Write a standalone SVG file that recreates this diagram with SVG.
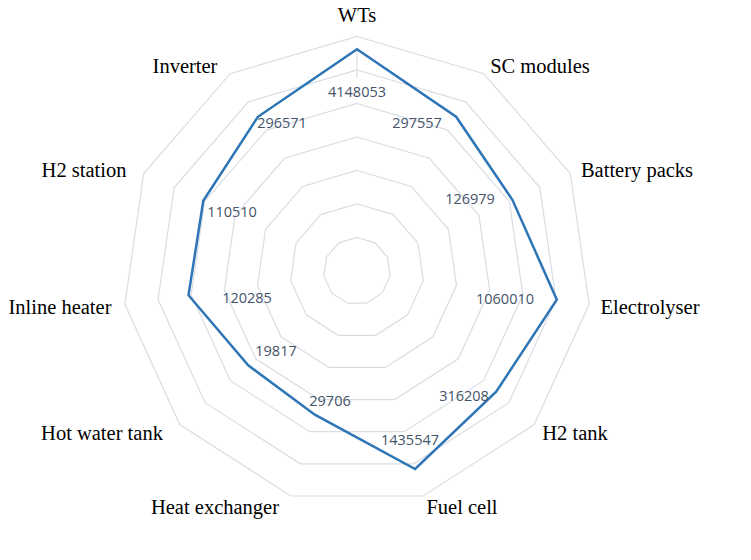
<svg xmlns="http://www.w3.org/2000/svg" width="751" height="560" viewBox="0 0 751 560">
<style>
.ring{fill:none;stroke:#d9dde3;stroke-width:1.2}
.cat{font-family:"Liberation Serif",serif;font-size:20.5px;fill:#000;text-anchor:middle}
.val{font-family:"Open Sans","Liberation Sans",sans-serif;font-size:14.5px;fill:#44546a;text-anchor:middle}
</style>
<defs>
<polygon id="ring" class="ring" vector-effect="non-scaling-stroke" points="0,-100 54.06,-84.13 90.96,-41.54 98.98,14.23 75.57,65.49 28.17,95.95 -28.17,95.95 -75.57,65.49 -98.98,14.23 -90.96,-41.54 -54.06,-84.13"/>
</defs>
<rect width="751" height="560" fill="#fff"/>
<g id="grid">
<use href="#ring" transform="translate(357,271) scale(0.335)"/>
<use href="#ring" transform="translate(357,271) scale(0.67)"/>
<use href="#ring" transform="translate(357,271) scale(1.005)"/>
<use href="#ring" transform="translate(357,271) scale(1.34)"/>
<use href="#ring" transform="translate(357,271) scale(1.675)"/>
<use href="#ring" transform="translate(357,271) scale(2.01)"/>
<use href="#ring" transform="translate(357,271) scale(2.345)"/>
<line x1="357" y1="50" x2="357" y2="78" stroke="#d9dde3" stroke-width="1.2"/>
</g>
<g id="connectors">
<polygon points="357,49.3 456.1,116.7 512.5,200 556.8,299.7 496.2,391.6 415.1,469 314.8,414.7 248.2,365.3 188.5,295.2 203.3,200.8 257.9,116.8" fill="none" stroke="#2e75b6" stroke-width="2.5" stroke-linejoin="miter"/>
</g>
<g id="values">
<text class="val" x="357" y="97">4148053</text>
<text class="val" x="417" y="128">297557</text>
<text class="val" x="470" y="204">126979</text>
<text class="val" x="505" y="304">1060010</text>
<text class="val" x="464" y="401">316208</text>
<text class="val" x="410" y="445">1435547</text>
<text class="val" x="330" y="406">29706</text>
<text class="val" x="276" y="356">19817</text>
<text class="val" x="247" y="303">120285</text>
<text class="val" x="232" y="217">110510</text>
<text class="val" x="282" y="128">296571</text>
</g>
<g id="labels">
<text id="n-wts" class="cat" x="357" y="22">WTs</text>
<text id="n-sc" class="cat" x="540" y="73">SC modules</text>
<text id="n-bat" class="cat" x="637" y="177">Battery packs</text>
<text id="n-el" class="cat" x="650" y="314">Electrolyser</text>
<text id="n-h2t" class="cat" x="575" y="440">H2 tank</text>
<text id="n-fc" class="cat" x="462" y="514">Fuel cell</text>
<text id="n-hx" class="cat" x="215" y="514">Heat exchanger</text>
<text id="n-hw" class="cat" x="102" y="440">Hot water tank</text>
<text id="n-ih" class="cat" x="60" y="314">Inline heater</text>
<text id="n-h2s" class="cat" x="84" y="177">H2 station</text>
<text id="n-inv" class="cat" x="185" y="73">Inverter</text>
</g>
</svg>
